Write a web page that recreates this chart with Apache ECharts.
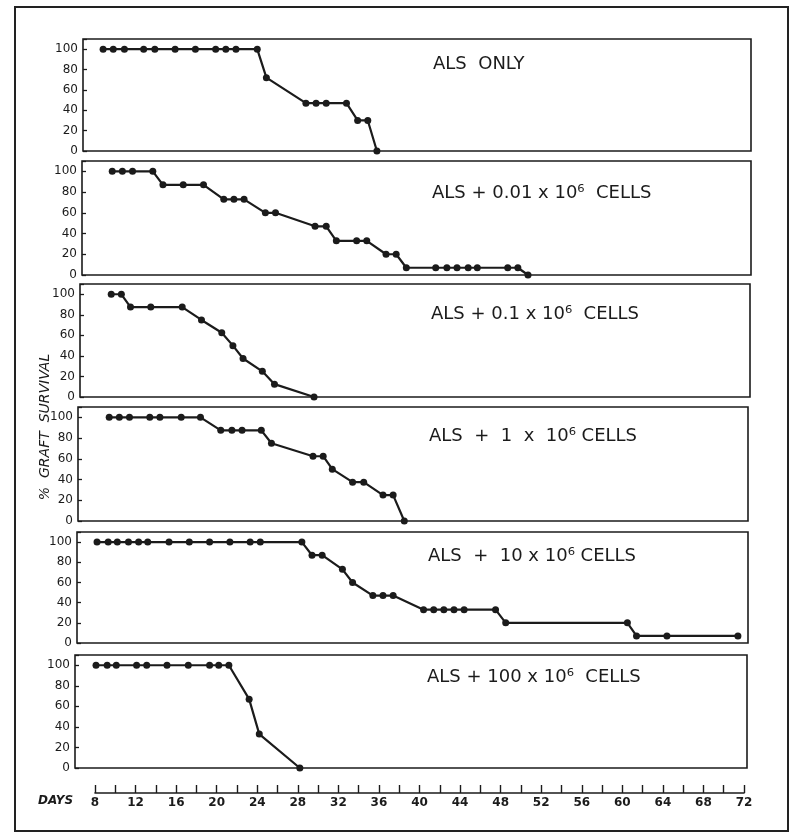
<!DOCTYPE html>
<html>
<head>
<meta charset="utf-8">
<script src="https://cdn.jsdelivr.net/npm/echarts@6/dist/echarts.min.js"></script>
<style>
  html, body { margin: 0; padding: 0; background: #ffffff; }
  #chart { width: 795px; height: 834px; }
</style>
</head>
<body>
<div id="chart"></div>
<script>
// ---------------- DATA ----------------
const panelTitles = [
  'ALS  ONLY',
  'ALS + 0.01 x 10\u2076  CELLS',
  'ALS + 0.1 x 10\u2076  CELLS',
  'ALS  +  1  x  10\u2076 CELLS',
  'ALS  +  10 x 10\u2076 CELLS',
  'ALS + 100 x 10\u2076  CELLS'
];

// ALS only
const days1 = [8.8, 9.8, 10.9, 12.8, 13.9, 15.9, 17.9, 19.9, 20.9, 21.9, 24.0, 24.9, 28.8, 29.8, 30.8, 32.8, 33.9, 34.9, 35.8];
const surv1 = [100, 100, 100, 100, 100, 100, 100, 100, 100, 100, 100, 72, 47, 47, 47, 47, 30, 30, 0];

// ALS + 0.01 x 10^6 cells
const days2 = [9.7, 10.7, 11.7, 13.7, 14.7, 16.7, 18.7, 20.7, 21.7, 22.7, 24.8, 25.8, 29.7, 30.8, 31.8, 33.8, 34.8, 36.7, 37.7, 38.7, 41.6, 42.7, 43.7, 44.8, 45.7, 48.7, 49.7, 50.7];
const surv2 = [100, 100, 100, 100, 87, 87, 87, 73, 73, 73, 60, 60, 47, 47, 33, 33, 33, 20, 20, 7, 7, 7, 7, 7, 7, 7, 7, 0];

// ALS + 0.1 x 10^6 cells
const days3 = [9.6, 10.6, 11.5, 13.5, 16.6, 18.5, 20.5, 21.6, 22.6, 24.5, 25.7, 29.6];
const surv3 = [100, 100, 87.5, 87.5, 87.5, 75, 62.5, 50, 37.5, 25, 12.5, 0];

// ALS + 1 x 10^6 cells
const days4 = [9.4, 10.4, 11.4, 13.4, 14.4, 16.5, 18.4, 20.4, 21.5, 22.5, 24.4, 25.4, 29.5, 30.5, 31.4, 33.4, 34.5, 36.4, 37.4, 38.5];
const surv4 = [100, 100, 100, 100, 100, 100, 100, 87.5, 87.5, 87.5, 87.5, 75, 62.5, 62.5, 50, 37.5, 37.5, 25, 25, 0];

// ALS + 10 x 10^6 cells
const days5 = [8.2, 9.3, 10.2, 11.3, 12.3, 13.2, 15.3, 17.3, 19.3, 21.3, 23.3, 24.3, 28.4, 29.4, 30.4, 32.4, 33.4, 35.4, 36.4, 37.4, 40.4, 41.4, 42.4, 43.4, 44.4, 47.5, 48.5, 60.5, 61.4, 64.4, 71.4];
const surv5 = [100, 100, 100, 100, 100, 100, 100, 100, 100, 100, 100, 100, 100, 87, 87, 73, 60, 47, 47, 47, 33, 33, 33, 33, 33, 33, 20, 20, 7, 7, 7];

// ALS + 100 x 10^6 cells
const days6 = [8.1, 9.2, 10.1, 12.1, 13.1, 15.1, 17.2, 19.3, 20.2, 21.2, 23.2, 24.2, 28.2];
const surv6 = [100, 100, 100, 100, 100, 100, 100, 100, 100, 100, 67, 33, 0];

const allDays = [days1, days2, days3, days4, days5, days6];
const allSurv = [surv1, surv2, surv3, surv4, surv5, surv6];

const dayMin = 8, dayMax = 72, dayStep = 2, dayLabelStep = 4;
const survMin = 0, survMax = 110, survStep = 20, survLabelMax = 100;

// ---------------- LAYOUT ----------------
const panelBoxes = [
  { top: 39,  bottom: 151, left: 83, right: 751, titleX: 433, titleY: 66 },
  { top: 161, bottom: 275, left: 82, right: 751, titleX: 432, titleY: 195 },
  { top: 284, bottom: 397, left: 80, right: 750, titleX: 431, titleY: 316 },
  { top: 407, bottom: 521, left: 78, right: 748, titleX: 429, titleY: 438 },
  { top: 532, bottom: 643, left: 77, right: 748, titleX: 428, titleY: 558 },
  { top: 655, bottom: 768, left: 75, right: 747, titleX: 427, titleY: 679 }
];
const axisLeftPx = 95, axisRightPx = 744, axisLinePx = 793;
const pxPerDay = (axisRightPx - axisLeftPx) / (dayMax - dayMin);
const INK = '#1b1b1b';
const FONT = 'DejaVu Sans';

const grid = [], xAxis = [], yAxis = [], series = [], graphic = [];

panelBoxes.forEach((b, i) => {
  grid.push({
    left: b.left, top: b.top, width: b.right - b.left, height: b.bottom - b.top,
    show: true, borderColor: INK, borderWidth: 1.6, backgroundColor: 'transparent',
    containLabel: false
  });
  xAxis.push({
    type: 'value', gridIndex: i, show: false,
    min: dayMin - (axisLeftPx - b.left) / pxPerDay,
    max: dayMax + (b.right - axisRightPx) / pxPerDay
  });
  yAxis.push({
    type: 'value', gridIndex: i,
    min: survMin, max: survMax, interval: survStep,
    axisLine: { show: false },
    splitLine: { show: false },
    axisTick: { show: true, inside: true, length: 4, lineStyle: { color: INK, width: 1.3 } },
    axisLabel: {
      show: true, margin: 5, color: INK, fontFamily: FONT, fontSize: 12,
      formatter: v => (v <= survLabelMax ? String(v) : '')
    }
  });
  series.push({
    type: 'line', xAxisIndex: i, yAxisIndex: i,
    data: allDays[i].map((d, k) => [d, allSurv[i][k]]),
    symbol: 'circle', symbolSize: 7, clip: false,
    lineStyle: { color: INK, width: 2.2 },
    itemStyle: { color: INK },
    animation: false
  });
  graphic.push({
    type: 'text', left: b.titleX, top: b.titleY - 11,
    style: { text: panelTitles[i], fill: INK, font: '18px "' + FONT + '"' }
  });
});

// bottom DAYS axis
const gi = panelBoxes.length;
grid.push({ left: axisLeftPx, width: axisRightPx - axisLeftPx, top: axisLinePx - 1, height: 1, show: false });
xAxis.push({
  type: 'value', gridIndex: gi, position: 'bottom',
  min: dayMin, max: dayMax, interval: dayStep,
  axisLine: { show: true, onZero: false, lineStyle: { color: INK, width: 1.6 } },
  axisTick: { show: true, inside: true, length: 8, lineStyle: { color: INK, width: 1.4 } },
  splitLine: { show: false },
  axisLabel: {
    margin: 4, color: INK, fontFamily: FONT, fontSize: 12, fontWeight: 'bold',
    formatter: v => ((v - dayMin) % dayLabelStep === 0 ? String(v) : '')
  }
});
yAxis.push({ type: 'value', gridIndex: gi, show: false });

graphic.push({
  type: 'text', left: 38, top: 795,
  style: { text: 'DAYS', fill: INK, font: 'italic bold 12px "' + FONT + '"' }
});
graphic.push({
  type: 'text', x: 45, y: 427, rotation: Math.PI / 2,
  style: { text: '%  GRAFT  SURVIVAL', fill: INK, font: 'italic 14px "' + FONT + '"', align: 'center', verticalAlign: 'middle' }
});
graphic.push({
  type: 'rect', shape: { x: 15, y: 7, width: 773, height: 824 },
  style: { fill: 'none', stroke: '#222', lineWidth: 2 }, z: -1
});

const chart = echarts.init(document.getElementById('chart'), null, { renderer: 'canvas' });
chart.setOption({
  backgroundColor: '#ffffff',
  animation: false,
  grid, xAxis, yAxis, series, graphic
});
</script>
</body>
</html>
